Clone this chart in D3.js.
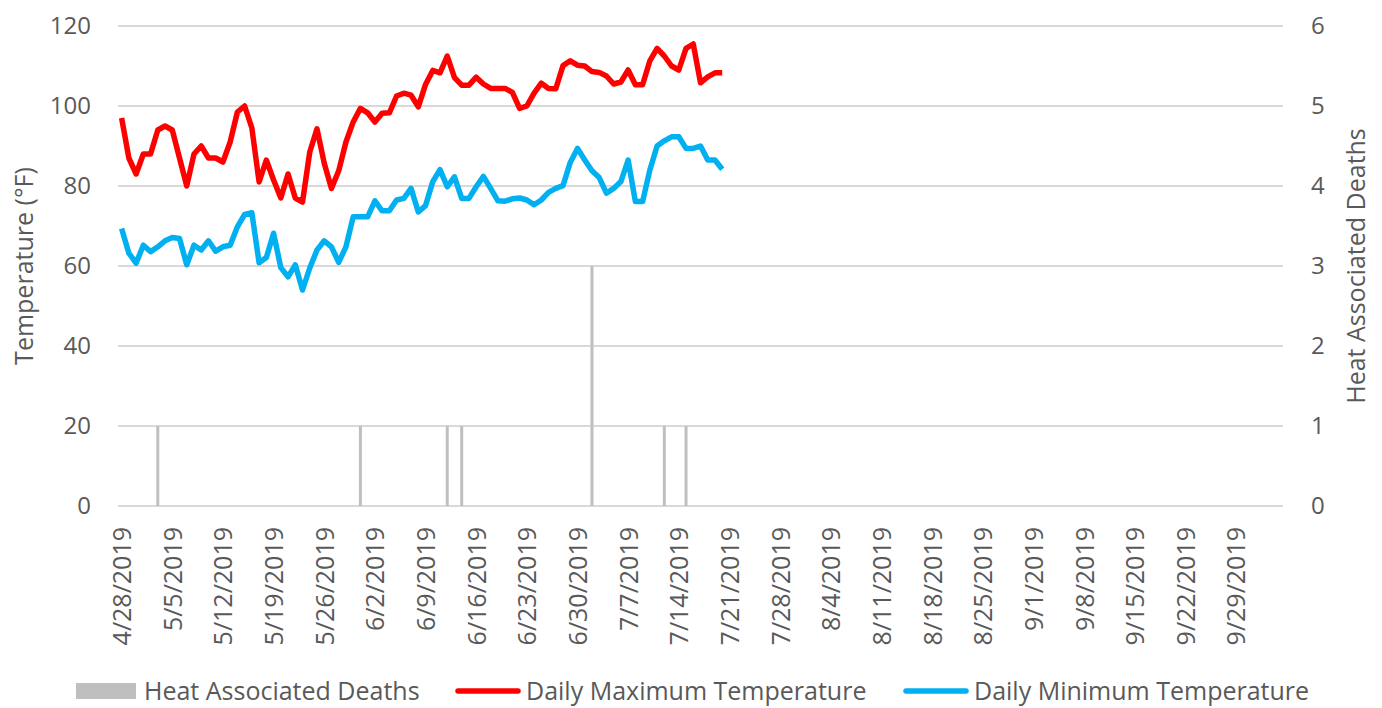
<!DOCTYPE html>
<html>
<head>
<meta charset="utf-8">
<script src="https://cdn.jsdelivr.net/npm/d3@7"></script>
<style>
	body { margin: 0; background: #fff; }
	text { font-family: "Open Sans", sans-serif; fill: #595959; }
</style>
</head>
<body>
<div class="chart"></div>
<script>
// daily values from 4/28/2019 onward
var startDate = "2019-04-28";
var axisEnd = "2019-10-05";

var maxTemp = [97, 87, 83, 88, 88, 94, 95, 94, 87, 80,
	88, 90, 87, 87, 86, 91, 98.5, 100, 94.5, 81,
	86.5, 81.5, 77, 83, 77, 76, 88.5, 94.3, 85.7, 79.4,
	83.8, 91, 96, 99.4, 98.3, 96, 98.2, 98.3, 102.5, 103.2,
	102.7, 99.8, 105.4, 108.9, 108.3, 112.5, 107.1, 105.2, 105.2, 107.2,
	105.5, 104.4, 104.4, 104.4, 103.4, 99.4, 100, 103.2, 105.7, 104.4,
	104.3, 110.1, 111.3, 110.2, 110, 108.6, 108.4, 107.5, 105.5, 106,
	109, 105.3, 105.3, 111.3, 114.4, 112.5, 110, 109, 114.4, 115.5,
	105.8, 107.3, 108.3, 108.3];

var minTemp = [69.4, 63.2, 60.7, 65.2, 63.6, 64.8, 66.3, 67.1, 66.9, 60.3,
	65.2, 64, 66.3, 63.7, 64.8, 65.2, 69.8, 72.9, 73.3, 60.8,
	62.1, 68.2, 59.6, 57.3, 60.3, 54, 59.5, 64, 66.3, 64.8,
	60.9, 64.8, 72.3, 72.3, 72.3, 76.3, 73.8, 73.8, 76.5, 76.9,
	79.4, 73.5, 75.1, 81.1, 84.1, 79.8, 82.3, 76.9, 76.9, 79.8,
	82.4, 79.4, 76.3, 76.2, 76.8, 77, 76.5, 75.3, 76.5, 78.4,
	79.4, 80.1, 85.9, 89.4, 86.5, 83.8, 82.1, 78.2, 79.4, 81.1,
	86.5, 76.1, 76.1, 84, 90, 91.3, 92.3, 92.3, 89.4, 89.4,
	90, 86.5, 86.5, 84.2];

var deathDates = ["2019-05-03", "2019-05-31", "2019-06-12", "2019-06-14", "2019-07-02", "2019-07-12", "2019-07-15"];
var deathCounts = [1, 1, 1, 1, 3, 1, 1];

var tempTicks = [0, 20, 40, 60, 80, 100, 120];
var deathTicks = [0, 1, 2, 3, 4, 5, 6];

var w = 1382;
var h = 708;
// plot box (window.top is read-only, so no "top" here)
var padL = 118, padR = 1283, padT = 26, padB = 506;

var parseDate = d3.utcParse("%Y-%m-%d");
var fmt = d3.utcFormat("%-m/%-d/%Y");

var day0 = parseDate(startDate);
var dayN = parseDate(axisEnd);
var days = d3.utcDay.range(day0, d3.utcDay.offset(day0, maxTemp.length));

var tempData = days.map(function (d, i) { return { date: d, max: maxTemp[i], min: minTemp[i] }; });
var deathData = deathDates.map(function (d, i) { return { date: parseDate(d), n: deathCounts[i] }; });

// each day gets one slot, points at the middle of it
var x = d3.scaleUtc()
	.domain([d3.utcHour.offset(day0, -12), d3.utcHour.offset(dayN, 12)])
	.range([padL, padR]);

var yTemp = d3.scaleLinear().domain([0, 120]).range([padB, padT]);
var yDeath = d3.scaleLinear().domain([0, 6]).range([padB, padT]);

var svg = d3.select(".chart")
	.append("svg")
	.attr("width", w)
	.attr("height", h);

// gridlines
svg.append("g")
	.selectAll("line")
	.data(tempTicks)
	.enter()
	.append("line")
	.attr("x1", padL)
	.attr("x2", padR)
	.attr("y1", d => yTemp(d))
	.attr("y2", d => yTemp(d))
	.attr("stroke", "#d9d9d9")
	.attr("stroke-width", 2);

// left axis labels
var yAxisL = d3.axisLeft(yTemp).tickValues(tempTicks).tickSize(0).tickPadding(0);
var gL = svg.append("g")
	.attr("transform", "translate(91,0)")
	.call(yAxisL);
gL.select(".domain").remove();
gL.selectAll("text").style("font-size", "24px").attr("fill", "#595959").attr("font-family", "Open Sans");

var yAxisR = d3.axisRight(yDeath).tickValues(deathTicks).tickFormat(d3.format("d")).tickSize(0).tickPadding(0);
var gR = svg.append("g")
	.attr("transform", "translate(1311,0)")
	.call(yAxisR);
gR.select(".domain").remove();
gR.selectAll("text").style("font-size", "24px").attr("fill", "#595959").attr("font-family", "Open Sans");

// x axis, weekly labels
var xAxis = d3.axisBottom(x)
	.ticks(d3.utcWeek.every(1))
	.tickFormat(fmt)
	.tickSize(0)
	.tickPadding(0);
var gX = svg.append("g")
	.attr("transform", "translate(0," + (padB + 21) + ")")
	.call(xAxis);
gX.select(".domain").remove();
gX.selectAll("text")
	.style("font-size", "25px")
	.attr("fill", "#595959")
	.attr("font-family", "Open Sans")
	.attr("text-anchor", "end")
	.attr("transform", "rotate(-90)")
	.attr("x", 0)
	.attr("y", 0)
	.attr("dy", "0.36em");

// deaths bars
svg.append("g")
	.selectAll("rect")
	.data(deathData)
	.enter()
	.append("rect")
	.attr("x", d => x(d.date) - 1.5)
	.attr("width", 3)
	.attr("y", d => yDeath(d.n))
	.attr("height", d => yDeath(0) - yDeath(d.n))
	.attr("fill", "#bfbfbf");

var lineMax = d3.line()
	.x(d => x(d.date))
	.y(d => yTemp(d.max));
var lineMin = d3.line()
	.x(d => x(d.date))
	.y(d => yTemp(d.min));

svg.append("path")
	.datum(tempData)
	.attr("d", lineMax)
	.attr("fill", "none")
	.attr("stroke", "#ff0000")
	.attr("stroke-width", 5.5)
	.attr("stroke-linejoin", "round");

svg.append("path")
	.datum(tempData)
	.attr("d", lineMin)
	.attr("fill", "none")
	.attr("stroke", "#00b0f0")
	.attr("stroke-width", 5.5)
	.attr("stroke-linejoin", "round");

// axis titles
svg.append("text")
	.attr("transform", "translate(33," + ((padT + padB) / 2) + ") rotate(-90)")
	.attr("text-anchor", "middle")
	.style("font-size", "25px")
	.text("Temperature (°F)");

svg.append("text")
	.attr("transform", "translate(1365," + ((padT + padB) / 2) + ") rotate(-90)")
	.attr("text-anchor", "middle")
	.style("font-size", "25px")
	.text("Heat Associated Deaths");

// legend
var legend = svg.append("g").attr("transform", "translate(0,691)");
legend.append("rect").attr("x", 76).attr("y", -8).attr("width", 60).attr("height", 16).attr("fill", "#bfbfbf");
legend.append("text").attr("x", 144).attr("dy", "0.34em").style("font-size", "25px").text("Heat Associated Deaths");
legend.append("line").attr("x1", 458).attr("x2", 518).attr("stroke", "#ff0000").attr("stroke-width", 5.5).attr("stroke-linecap", "round");
legend.append("text").attr("x", 526).attr("dy", "0.34em").style("font-size", "25px").text("Daily Maximum Temperature");
legend.append("line").attr("x1", 906).attr("x2", 966).attr("stroke", "#00b0f0").attr("stroke-width", 5.5).attr("stroke-linecap", "round");
legend.append("text").attr("x", 974).attr("dy", "0.34em").style("font-size", "25px").text("Daily Minimum Temperature");
</script>
</body>
</html>
